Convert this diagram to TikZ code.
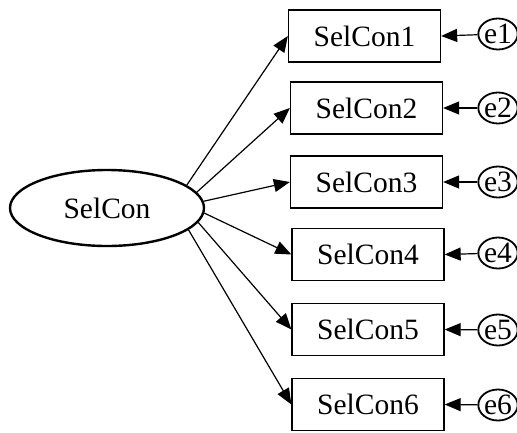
\documentclass[tikz,border=0pt]{standalone}
\usepackage{fontspec}
\setmainfont{Liberation Serif}
\usetikzlibrary{arrows.meta,shapes.geometric}
\begin{document}
\begin{tikzpicture}[x=1pt,y=-1pt,
  obs/.style={draw,line width=1.3pt,minimum width=152pt,minimum height=52pt,inner sep=0pt,font=\fontsize{29.5}{32}\selectfont},
  lat/.style={draw,ellipse,line width=2.4pt,minimum width=194pt,minimum height=76pt,inner sep=0pt,font=\fontsize{29.5}{32}\selectfont},
  err/.style={draw,ellipse,line width=1.8pt,minimum width=38pt,minimum height=31pt,inner sep=0pt,font=\fontsize{29.5}{32}\selectfont},
  arr/.style={line width=1.2pt,-{Triangle[length=16pt,width=13pt]}}]
\useasboundingbox (0,0) rectangle (517,432);
\node[lat] (sel) at (107,208) {SelCon};
\node[obs] (b1) at (364.5,36) {SelCon1};
\node[obs] (b2) at (366.5,108) {SelCon2};
\node[obs] (b3) at (366.5,182) {SelCon3};
\node[obs] (b4) at (368,254.5) {SelCon4};
\node[obs] (b5) at (368,329.5) {SelCon5};
\node[obs] (b6) at (368,404.5) {SelCon6};
\node[err] (e1) at (498,34) {e1};
\node[err] (e2) at (498,108) {e2};
\node[err] (e3) at (498,182) {e3};
\node[err] (e4) at (498,253) {e4};
\node[err] (e5) at (498,330) {e5};
\node[err] (e6) at (498,405) {e6};
\foreach \i/\a in {1/16.4,2/10,3/4,4/-3.6,5/-9.4,6/-15.7}{
  \draw[arr] (sel.\a) -- (b\i.west);
  \draw[arr] (e\i) -- (b\i.east);
}
\end{tikzpicture}
\end{document}
